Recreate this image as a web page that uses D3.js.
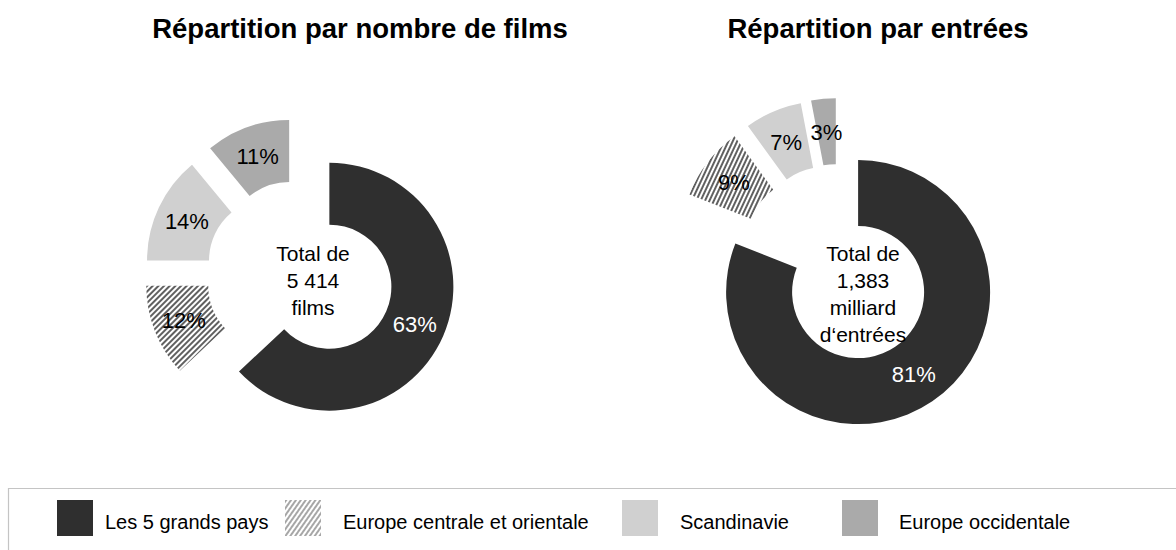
<!DOCTYPE html>
<html lang="fr">
<head>
<meta charset="utf-8">
<title>Répartition</title>
<style>
  body { margin: 0; background: #fff; }
  svg text { font-family: "Liberation Sans", Arial, sans-serif; }
</style>
</head>
<body>
<div id="chart"></div>
<script src="https://d3js.org/d3.v7.min.js"></script>
<script>
// data
var categories = ["Les 5 grands pays", "Europe centrale et orientale", "Scandinavie", "Europe occidentale"];
var filmsShare = [63, 12, 14, 11];
var entreesShare = [81, 9, 7, 3];
var titles = ["Répartition par nombre de films", "Répartition par entrées"];
var centerLines = [["Total de", "5 414", "films"], ["Total de", "1,383", "milliard", "d‘entrées"]];

var width = 1176, height = 550;

var svg = d3.select("#chart").append("svg")
    .attr("width", width)
    .attr("height", height);

// hatch patterns (excel-like "/" stripes)
var defs = svg.append("defs");
function hatch(id, angle, color, w) {
  var p = defs.append("pattern")
      .attr("id", id)
      .attr("patternUnits", "userSpaceOnUse")
      .attr("width", 4).attr("height", 4)
      .attr("patternTransform", "rotate(" + angle + ")");
  p.append("rect").attr("width", 4).attr("height", 4).attr("fill", "#fff");
  p.append("line").attr("x1", 1).attr("y1", 0).attr("x2", 1).attr("y2", 4)
      .attr("stroke", color).attr("stroke-width", w);
}
hatch("hatchA", 45, "#444", 1.7);
hatch("hatchB", 25, "#444", 1.7);
hatch("hatchL", 35, "#777", 1.3);

var color = d3.scaleOrdinal()
    .domain(categories)
    .range(["#2f2f2f", "url(#hatchA)", "#d0d0d0", "#aaaaaa"]);

var pie = d3.pie().sort(null).value(function(d) { return d.v; });

// one doughnut per panel
var panels = [
  {values: filmsShare, title: titles[0], lines: centerLines[0], cx: 300, cy: 274, R: 124, explode: 32,
   titleX: 360, textX: 313, textY: 253, hatch: "url(#hatchA)"},
  {values: entreesShare, title: titles[1], lines: centerLines[1], cx: 839, cy: 264, R: 132, explode: 34,
   titleX: 878, textX: 863, textY: 253, hatch: "url(#hatchB)"}
];

panels.forEach(function(p) {
  svg.append("text")
      .attr("x", p.titleX).attr("y", 38)
      .attr("text-anchor", "middle")
      .style("font-size", "27.5px").style("font-weight", "bold")
      .text(p.title);

  var arc = d3.arc().innerRadius(p.R * 0.5).outerRadius(p.R);
  var data = pie(p.values.map(function(v, i) { return {v: v, cat: categories[i]}; }));

  var g = svg.append("g").attr("transform", "translate(" + p.cx + "," + p.cy + ")");

  var slice = g.selectAll(".slice")
      .data(data)
    .enter().append("g")
      .attr("class", "slice")
      .attr("transform", function(d) {
        var a = (d.startAngle + d.endAngle) / 2;
        return "translate(" + (p.explode * Math.sin(a)) + "," + (-p.explode * Math.cos(a)) + ")";
      });

  slice.append("path")
      .attr("d", arc)
      .attr("fill", function(d, i) { return i == 1 ? p.hatch : color(d.data.cat); });

  slice.append("text")
      .attr("transform", function(d) { return "translate(" + arc.centroid(d) + ")"; })
      .attr("text-anchor", "middle")
      .attr("dy", "0.36em")
      .style("font-size", "22px")
      .attr("fill", function(d, i) { return i == 0 ? "#fff" : "#000"; })
      .text(function(d) { return d.data.v + "%"; });

  svg.selectAll(null)
      .data(p.lines)
    .enter().append("text")
      .attr("x", p.textX)
      .attr("y", function(d, i) { return p.textY + i * 27; })
      .attr("dy", "0.36em")
      .attr("text-anchor", "middle")
      .style("font-size", "21px")
      .text(function(d) { return d; });
});

// legend
svg.append("path")
    .attr("d", "M8.5,560V488.5H1180")
    .attr("fill", "none")
    .attr("stroke", "#c4c4c4")
    .attr("stroke-width", 1.2);

var legendX = [57, 285, 622, 842];
var legendGap = [48, 58, 58, 57];

var legend = svg.selectAll(".legend")
    .data(categories)
  .enter().append("g")
    .attr("class", "legend")
    .attr("transform", function(d, i) { return "translate(" + legendX[i] + ",500)"; });

legend.append("rect")
    .attr("width", 36).attr("height", 36)
    .attr("fill", function(d, i) { return i == 1 ? "url(#hatchL)" : color(d); });

legend.append("text")
    .attr("x", function(d, i) { return legendGap[i]; })
    .attr("y", 29)
    .style("font-size", "20px")
    .text(function(d) { return d; });
</script>
</body>
</html>
